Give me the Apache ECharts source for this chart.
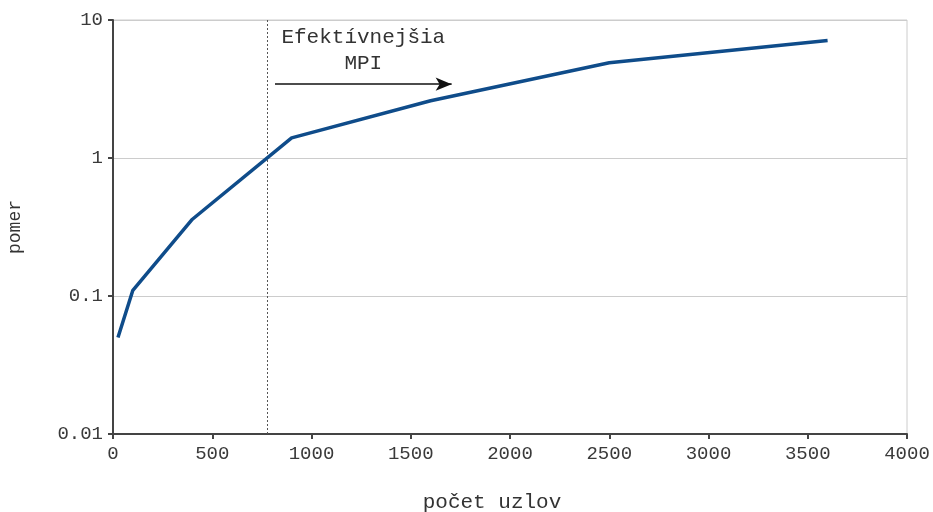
<!DOCTYPE html>
<html><head><meta charset="utf-8">
<script src="https://cdn.jsdelivr.net/npm/echarts@6/dist/echarts.min.js"></script>
<style>html,body{margin:0;padding:0;background:#fff}#c{width:933px;height:512px}</style>
</head><body><div id="c"></div>
<script>
const nodes = [25, 100, 400, 900, 1600, 2500, 3600];
const ratio = [0.05, 0.11, 0.36, 1.4, 2.6, 4.9, 7.1];
const xTitle = 'počet uzlov';
const yTitle = 'pomer';
const crossX = 775;
const arrowFrom = [816, 3.43];
const arrowTo = [1706, 3.43];
const annText = 'Efektívnejšia\nMPI';

const font = '"Liberation Mono", "Courier New", monospace';
const chart = echarts.init(document.getElementById('c'), null, {renderer: 'canvas'});
chart.setOption({
  animation: false,
  backgroundColor: '#fff',
  grid: {left: 113, right: 26, top: 20, bottom: 78, show: true, borderColor: '#cccccc', borderWidth: 1,
    containLabel: false, outerBoundsMode: 'none'},
  xAxis: {
    type: 'value', min: 0, max: 4000, interval: 500,
    name: xTitle, nameLocation: 'middle', nameGap: 58,
    nameTextStyle: {fontFamily: font, fontSize: 21, color: '#333', padding: [0, 36, 0, 0]},
    axisLine: {lineStyle: {color: '#444', width: 2}},
    axisTick: {show: true, length: 5, lineStyle: {color: '#444', width: 2}},
    axisLabel: {fontFamily: font, fontSize: 19, color: '#3a3a3a', margin: 10, formatter: v => String(v)},
    splitLine: {show: false}
  },
  yAxis: {
    type: 'log', logBase: 10, min: 0.01, max: 10,
    name: yTitle, nameLocation: 'middle', nameGap: 89, nameRotate: 90,
    nameTextStyle: {fontFamily: font, fontSize: 18, color: '#333'},
    axisLine: {show: true, lineStyle: {color: '#444', width: 2}},
    axisTick: {show: true, length: 5, lineStyle: {color: '#444', width: 2}},
    axisLabel: {fontFamily: font, fontSize: 19, color: '#3a3a3a', margin: 10,
      formatter: v => String(+v.toPrecision(3))},
    splitLine: {show: true, lineStyle: {color: '#cccccc', width: 1}}
  },
  series: [{
    type: 'line',
    data: nodes.map((x, i) => [x, ratio[i]]),
    symbol: 'none',
    lineStyle: {color: '#0f4c8a', width: 3.5},
    z: 5,
    markLine: {
      silent: true,
      animation: false,
      data: [
        [{coord: [crossX, 0.01], symbol: 'none'}, {coord: [crossX, 10], symbol: 'none',
          lineStyle: {color: '#555', type: [2, 2], width: 1}, label: {show: false}}],
        [{coord: arrowFrom, symbol: 'none'}, {coord: arrowTo, symbol: 'arrow', symbolSize: [10, 16],
          lineStyle: {color: '#111', type: 'solid', width: 1.5},
          label: {show: true, position: 'middle', formatter: annText, distance: 8,
            fontFamily: font, fontSize: 21, lineHeight: 26, color: '#333', align: 'center'}}]
      ],
      lineStyle: {color: '#111', type: 'solid', width: 1.5},
      label: {show: false}
    }
  }]
});
</script></body></html>
